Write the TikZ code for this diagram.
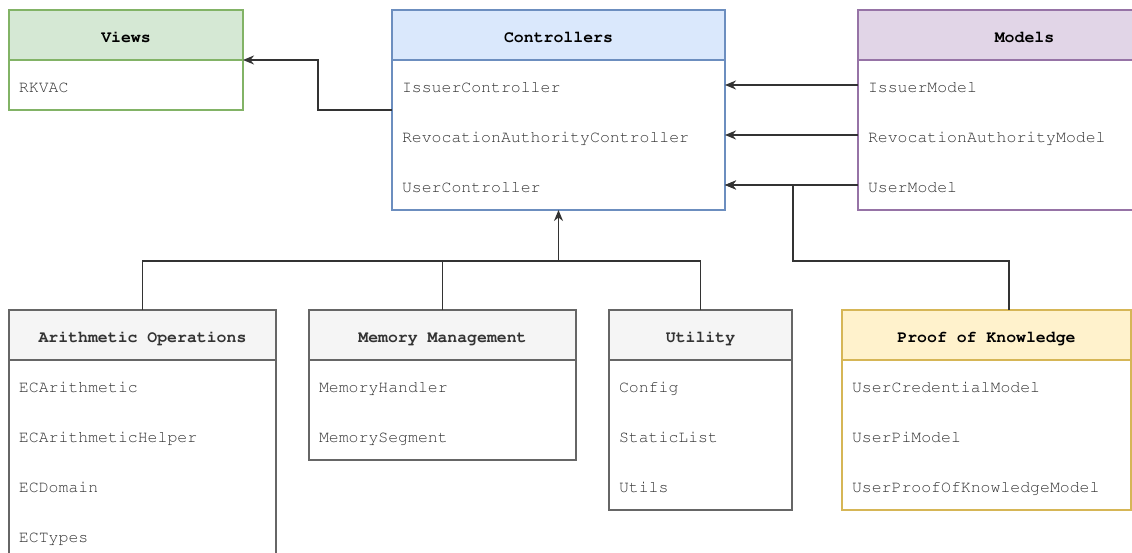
\documentclass[tikz,border=0pt]{standalone}
\usepackage[T1,TU]{fontenc}
\usetikzlibrary{arrows.meta,positioning}
\definecolor{vfill}{HTML}{D5E8D4}
\definecolor{vline}{HTML}{82B366}
\definecolor{cfill}{HTML}{DAE8FC}
\definecolor{cline}{HTML}{6C8EBF}
\definecolor{mfill}{HTML}{E1D5E7}
\definecolor{mline}{HTML}{9673A6}
\definecolor{pfill}{HTML}{FFF2CC}
\definecolor{pline}{HTML}{D6B656}
\definecolor{gfill}{HTML}{F5F5F5}
\definecolor{gline}{HTML}{666666}
\definecolor{rowtext}{HTML}{333333}
\definecolor{linkgray}{HTML}{333333}
\newcommand{\hdfont}{\fontencoding{T1}\fontfamily{pcr}\fontseries{b}\fontsize{16.5}{20}\selectfont}
\newcommand{\rwfont}{\fontencoding{T1}\fontfamily{pcr}\fontsize{16.5}{20}\selectfont}
\tikzstyle{head}=[rectangle,draw,line width=1.2pt,minimum height=50pt,inner sep=0pt,outer sep=0pt,text height=15pt,text depth=0pt,font=\hdfont]
\tikzstyle{row}=[rectangle,minimum height=50pt,inner xsep=10pt,inner ysep=0pt,outer sep=0pt,text height=15pt,text depth=0pt,align=left,font=\rwfont,text=rowtext]
\tikzstyle{frame}=[line width=1.2pt]
\tikzstyle{link}=[draw=linkgray,line width=1.3pt]
\tikzstyle{arr}=[link,-{Stealth[length=11pt,width=9pt,inset=3.5pt]}]

\begin{document}
\begin{tikzpicture}[x=1pt,y=-1pt]
\useasboundingbox (0, 0) rectangle (1132, 553);
\clip (0, 0) rectangle (1132, 553);
\node[head,fill=vfill,draw=vline,minimum width=234pt] at (126, 35) (hdrV) {Views};
\node[row,text width=214pt] (vrk) [below=0pt of hdrV] {RKVAC};
\node[head,fill=cfill,draw=cline,minimum width=333pt] at (558.5, 35) (hdrC) {Controllers};
\node[row,text width=313pt] (ciss) [below=0pt of hdrC] {IssuerController};
\node[row,text width=313pt] (crev) [below=0pt of ciss] {RevocationAuthorityController};
\node[row,text width=313pt] (cusr) [below=0pt of crev] {UserController};
\node[head,fill=mfill,draw=mline,minimum width=333pt] at (1024.5, 35) (hdrM) {Models};
\node[row,text width=313pt] (miss) [below=0pt of hdrM] {IssuerModel};
\node[row,text width=313pt] (mrev) [below=0pt of miss] {RevocationAuthorityModel};
\node[row,text width=313pt] (musr) [below=0pt of mrev] {UserModel};
\node[head,fill=gfill,draw=gline,text=rowtext,minimum width=267pt] at (142.5, 335) (hdrA) {Arithmetic Operations};
\node[row,text width=247pt] (aari) [below=0pt of hdrA] {ECArithmetic};
\node[row,text width=247pt] (ahlp) [below=0pt of aari] {ECArithmeticHelper};
\node[row,text width=247pt] (adom) [below=0pt of ahlp] {ECDomain};
\node[row,text width=247pt] (atyp) [below=0pt of adom] {ECTypes};
\node[head,fill=gfill,draw=gline,text=rowtext,minimum width=267pt] at (442.5, 335) (hdrMem) {Memory Management};
\node[row,text width=247pt] (mhnd) [below=0pt of hdrMem] {MemoryHandler};
\node[row,text width=247pt] (mseg) [below=0pt of mhnd] {MemorySegment};
\node[head,fill=gfill,draw=gline,text=rowtext,minimum width=183pt] at (700.5, 335) (hdrU) {Utility};
\node[row,text width=163pt] (ucfg) [below=0pt of hdrU] {Config};
\node[row,text width=163pt] (ulst) [below=0pt of ucfg] {StaticList};
\node[row,text width=163pt] (uutl) [below=0pt of ulst] {Utils};
\node[head,fill=pfill,draw=pline,minimum width=289pt] at (986.5, 335) (hdrP) {Proof of Knowledge};
\node[row,text width=269pt] (pcrd) [below=0pt of hdrP] {UserCredentialModel};
\node[row,text width=269pt] (ppi) [below=0pt of pcrd] {UserPiModel};
\node[row,text width=269pt] (ppok) [below=0pt of ppi] {UserProofOfKnowledgeModel};
\draw[frame,draw=vline] (hdrV.north west) rectangle (vrk.south east);
\draw[frame,draw=cline] (hdrC.north west) rectangle (cusr.south east);
\draw[frame,draw=mline] (hdrM.north west) rectangle (musr.south east);
\draw[frame,draw=gline] (hdrA.north west) rectangle (atyp.south east);
\draw[frame,draw=gline] (hdrMem.north west) rectangle (mseg.south east);
\draw[frame,draw=gline] (hdrU.north west) rectangle (uutl.south east);
\draw[frame,draw=pline] (hdrP.north west) rectangle (ppok.south east);
\draw[arr] (ciss.south west) -- ++(-74, 0) |- (hdrV.south east);
\draw[arr] (miss.west) -- (ciss.east);
\draw[arr] (mrev.west) -- (crev.east);
\draw[arr] (musr.west) -- (cusr.east);
\coordinate (bus) at (558.5, 261);
\draw[link] (hdrA.north) |- (bus);
\draw[link] (hdrMem.north) |- (bus);
\draw[link] (hdrU.north) |- (bus);
\draw[arr] (bus) -- (cusr.south);
\coordinate (pbend) at (793, 261);
\draw[arr] ([xshift=22.5pt]hdrP.north) |- (pbend) |- (cusr.east);
\end{tikzpicture}
\end{document}
